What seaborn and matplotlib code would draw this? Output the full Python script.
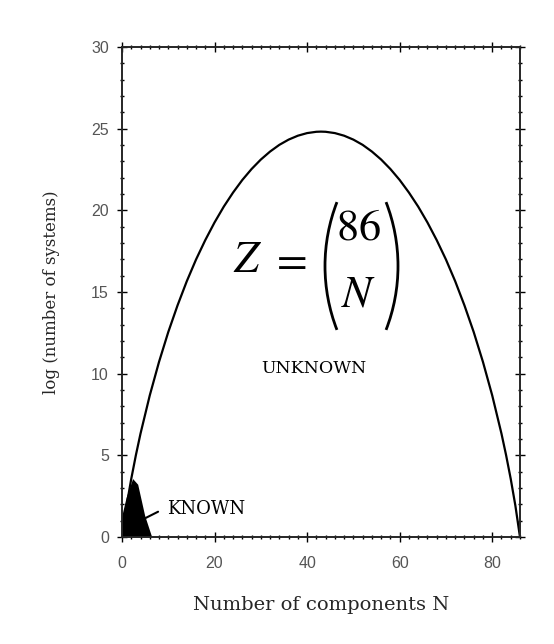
import numpy as np
import matplotlib
matplotlib.use('Agg')
import matplotlib.pyplot as plt
import seaborn as sns
import pandas as pd
from matplotlib.ticker import MultipleLocator
from matplotlib.patches import Arc

# curve values: log(number of systems) vs N
n_comp = [0, 1, 2, 3, 4, 6, 8, 10, 12, 14, 16, 18, 20, 22, 24, 26, 28, 30, 32, 34,
          36, 38, 40, 42, 43, 44, 46, 48, 50, 52, 54, 56, 58, 60, 62, 64, 66, 68,
          70, 72, 74, 76, 78, 80, 82, 83, 84, 85, 86]
log_systems = [0.0, 1.93, 3.56, 5.01, 6.33, 8.67, 10.72, 12.55, 14.18, 15.66, 16.99,
               18.18, 19.26, 20.23, 21.09, 21.86, 22.53, 23.11, 23.60, 24.01, 24.33,
               24.57, 24.73, 24.81, 24.82, 24.81, 24.73, 24.57, 24.33, 24.01, 23.60,
               23.11, 22.53, 21.86, 21.09, 20.23, 19.26, 18.18, 16.99, 15.66, 14.18,
               12.55, 10.72, 8.67, 6.33, 5.01, 3.56, 1.93, 0.0]

# black "known" region
known_n = [0, 0, 1, 2.4, 3.5, 5, 6.5]
known_log = [0, 1.2, 2.4, 3.55, 3.2, 1.3, 0]

df = pd.DataFrame({'N': n_comp, 'logZ': log_systems})

sns.set_style("ticks")
plt.rcParams['font.family'] = ['Liberation Sans', 'DejaVu Sans']
plt.rcParams['mathtext.fontset'] = 'stix'
plt.rcParams['text.color'] = 'black'
serif = 'DejaVu Serif'

fig = plt.figure(figsize=(5.54, 6.44), dpi=100)
ax = fig.add_axes([0.2202, 0.1661, 0.7184, 0.7609])

sns.lineplot(data=df, x='N', y='logZ', ax=ax, color='black', linewidth=1.6)
ax.fill(known_n, known_log, color='black', linewidth=0)

# pointer to the KNOWN label
ax.plot([5.0, 7.8], [1.15, 1.55], color='black', linewidth=1.5)
ax.text(9.8, 1.7, 'KNOWN', fontsize=13, family=serif, va='center', ha='left')
ax.text(41.5, 10.3, 'UNKNOWN', fontsize=12.5, family=serif, va='center', ha='center')

# Z = (86 over N)
fs = 32
ax.text(27.2, 16.9, r'$Z$', fontsize=fs, ha='center', va='center')
ax.text(36.0, 16.9, r'$=$', fontsize=fs, ha='center', va='center')
ax.text(51.2, 18.9, r'$\mathrm{86}$', fontsize=fs, ha='center', va='center')
ax.text(51.2, 14.8, r'$N$', fontsize=fs, ha='center', va='center')
# big parentheses, drawn as circular arcs (inches)
ax.add_patch(Arc((5.017, 3.78), 3.534, 3.534, theta1=158.8, theta2=201.2,
                 transform=fig.dpi_scale_trans, color='black', linewidth=2.0))
ax.add_patch(Arc((2.213, 3.78), 3.534, 3.534, theta1=-21.2, theta2=21.2,
                 transform=fig.dpi_scale_trans, color='black', linewidth=2.0))

ax.set_xlim(0, 86)
ax.set_ylim(0, 30)
ax.xaxis.set_major_locator(MultipleLocator(20))
ax.xaxis.set_minor_locator(MultipleLocator(2))
ax.yaxis.set_major_locator(MultipleLocator(5))
ax.yaxis.set_minor_locator(MultipleLocator(1))
ax.tick_params(which='both', direction='inout', top=True, right=True, colors='black',
               labelcolor='#555555', labelsize=11.5, width=1)
ax.tick_params(which='major', length=7)
ax.tick_params(which='minor', length=3)
ax.tick_params(axis='x', which='major', pad=10)
ax.tick_params(axis='y', which='major', pad=6)
for s in ax.spines.values():
    s.set_linewidth(1.4)

ax.set_xlabel('Number of components N', family=serif, fontsize=14, labelpad=18)
ax.set_ylabel('log (number of systems)', family=serif, fontsize=12, labelpad=22)

plt.savefig('out.png', dpi=100)
